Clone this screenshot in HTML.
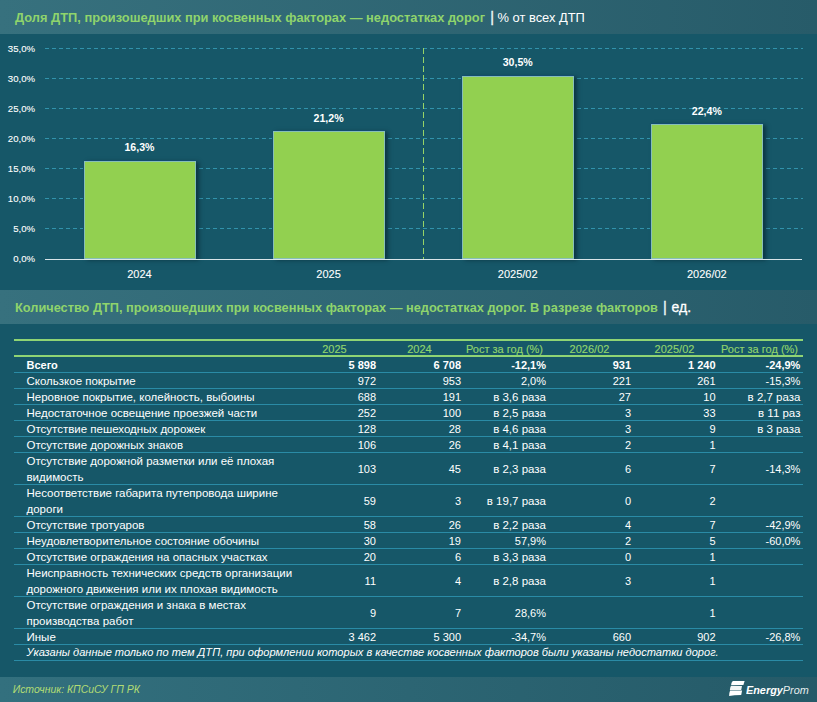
<!DOCTYPE html><html><head><meta charset="utf-8"><style>
*{margin:0;padding:0;box-sizing:border-box}
html,body{width:817px;height:702px;overflow:hidden;background:#165768;font-family:"Liberation Sans",sans-serif;color:#fff}
.a{position:absolute;white-space:pre}
.band{position:absolute;left:0;width:817px;height:34px;background:linear-gradient(90deg,#37717e 0%,#275b69 100%)}
.ttl{position:absolute;left:15px;font-size:12.85px;font-weight:bold;color:#8fd46c;line-height:16px}
.ttl .w{color:#fff;font-weight:normal;font-size:12.9px}
.ttl .p{color:#f0f8f8;font-weight:normal;font-size:14.5px;-webkit-text-stroke:0.35px #f0f8f8;margin-left:2px;position:relative;top:0px}
.yl{position:absolute;width:40px;left:-5px;text-align:right;font-size:9.6px;line-height:12px;-webkit-text-stroke:0.1px #fff}
.gl{position:absolute;left:45px;width:758px;height:1px;background:repeating-linear-gradient(90deg,#3192ab 0 4px,transparent 4px 7px)}
.bar{position:absolute;background:#92d050;border:1px solid #86bfb8;box-shadow:0 -1px 0 #124c70,-1px 0 0 #14506a,3px 1px 4px rgba(0,20,30,.5)}
.vl{position:absolute;width:140px;text-align:center;font-size:10.6px;font-weight:bold;line-height:12px}
.xl{position:absolute;width:140px;text-align:center;font-size:11px;line-height:12px;-webkit-text-stroke:0.1px #fff}
.row{position:absolute;left:14px;width:789px;border-bottom:1px solid #2a8ba6}
.c{position:absolute;top:0;text-align:right;font-size:11px;white-space:pre}
.lab{position:absolute;left:12.5px;top:0;font-size:11.5px;line-height:16px;white-space:pre}
.hd{position:absolute;text-align:center;font-size:11px;color:#90d46c;width:85px;line-height:14px;-webkit-text-stroke:0.15px #90d46c}
</style></head><body>
<div class="band" style="top:0"></div>
<div class="ttl" style="top:9px">Доля ДТП, произошедших при косвенных факторах — недостатках дорог <span class="p" style="top:0px;margin-left:1.6px">|</span><span class="w"> % от всех ДТП</span></div>
<div class="gl" style="top:48px"></div>
<div class="yl" style="top:43px">35,0%</div>
<div class="gl" style="top:78px"></div>
<div class="yl" style="top:73px">30,0%</div>
<div class="gl" style="top:108px"></div>
<div class="yl" style="top:103px">25,0%</div>
<div class="gl" style="top:138px"></div>
<div class="yl" style="top:133px">20,0%</div>
<div class="gl" style="top:168px"></div>
<div class="yl" style="top:163px">15,0%</div>
<div class="gl" style="top:198px"></div>
<div class="yl" style="top:193px">10,0%</div>
<div class="gl" style="top:228px"></div>
<div class="yl" style="top:223px">5,0%</div>
<div class="yl" style="top:253px">0,0%</div>
<div class="a" style="left:423px;top:48px;width:1px;height:211px;background:repeating-linear-gradient(180deg,#96d366 0 6px,transparent 6px 9.1px)"></div>
<div class="bar" style="left:84.0px;top:161.0px;width:112px;height:98.0px"></div>
<div class="vl" style="left:69.5px;top:141.2px">16,3%</div>
<div class="xl" style="left:69.5px;top:268px">2024</div>
<div class="bar" style="left:273.1px;top:131.0px;width:112px;height:128.0px"></div>
<div class="vl" style="left:258.6px;top:111.8px">21,2%</div>
<div class="xl" style="left:258.6px;top:268px">2025</div>
<div class="bar" style="left:462.2px;top:76.0px;width:112px;height:183.0px"></div>
<div class="vl" style="left:447.7px;top:56.0px">30,5%</div>
<div class="xl" style="left:447.7px;top:268px">2025/02</div>
<div class="bar" style="left:651.3px;top:124.0px;width:112px;height:135.0px"></div>
<div class="vl" style="left:636.8px;top:104.6px">22,4%</div>
<div class="xl" style="left:636.8px;top:268px">2026/02</div>
<div class="a" style="left:45px;top:258.5px;width:757px;height:1px;background:#d8e4e8"></div>
<div class="band" style="top:290px"></div>
<div class="ttl" style="top:299px;font-size:12.78px">Количество ДТП, произошедших при косвенных факторах — недостатках дорог. В разрезе факторов<span class="p" style="top:0px;margin-left:5px">|</span><span class="w" style="font-size:14px;margin-left:1px;-webkit-text-stroke:0.3px #fff"> ед.</span></div>
<div class="a" style="left:14px;top:339px;width:789px;height:2px;background:#8fd474"></div>
<div class="a" style="left:14px;top:354.5px;width:789px;height:2px;background:#8fd474"></div>
<div class="hd" style="left:292.0px;top:342px">2025</div>
<div class="hd" style="left:377.0px;top:342px">2024</div>
<div class="hd" style="left:462.0px;top:342px">Рост за год (%)</div>
<div class="hd" style="left:547.0px;top:342px">2026/02</div>
<div class="hd" style="left:632.0px;top:342px">2025/02</div>
<div class="hd" style="left:717.0px;top:342px">Рост за год (%)</div>
<div class="row" style="top:356.5px;height:16px">
<div class="lab" style="font-weight:bold;font-size:11px;top:0px">Всего</div>
<div class="c" style="font-weight:bold;right:427.0px;line-height:16px">5 898</div>
<div class="c" style="font-weight:bold;right:342.0px;line-height:16px">6 708</div>
<div class="c" style="font-weight:bold;right:257.0px;line-height:16px">-12,1%</div>
<div class="c" style="font-weight:bold;right:172.0px;line-height:16px">931</div>
<div class="c" style="font-weight:bold;right:87.4px;line-height:16px">1 240</div>
<div class="c" style="font-weight:bold;right:2.6px;line-height:16px">-24,9%</div>
</div>
<div class="row" style="top:372.5px;height:16px">
<div class="lab" style="top:0px">Скользкое покрытие</div>
<div class="c" style="right:427.0px;line-height:16px">972</div>
<div class="c" style="right:342.0px;line-height:16px">953</div>
<div class="c" style="right:257.0px;line-height:16px">2,0%</div>
<div class="c" style="right:172.0px;line-height:16px">221</div>
<div class="c" style="right:87.4px;line-height:16px">261</div>
<div class="c" style="right:2.6px;line-height:16px">-15,3%</div>
</div>
<div class="row" style="top:388.5px;height:16px">
<div class="lab" style="top:0px">Неровное покрытие, колейность, выбоины</div>
<div class="c" style="right:427.0px;line-height:16px">688</div>
<div class="c" style="right:342.0px;line-height:16px">191</div>
<div class="c" style="font-size:11.5px;right:257.0px;line-height:16px">в 3,6 раза</div>
<div class="c" style="right:172.0px;line-height:16px">27</div>
<div class="c" style="right:87.4px;line-height:16px">10</div>
<div class="c" style="font-size:11.5px;right:2.6px;line-height:16px">в 2,7 раза</div>
</div>
<div class="row" style="top:404.5px;height:16px">
<div class="lab" style="top:0px">Недостаточное освещение проезжей части</div>
<div class="c" style="right:427.0px;line-height:16px">252</div>
<div class="c" style="right:342.0px;line-height:16px">100</div>
<div class="c" style="font-size:11.5px;right:257.0px;line-height:16px">в 2,5 раза</div>
<div class="c" style="right:172.0px;line-height:16px">3</div>
<div class="c" style="right:87.4px;line-height:16px">33</div>
<div class="c" style="font-size:11.5px;right:2.6px;line-height:16px">в 11 раз</div>
</div>
<div class="row" style="top:420.5px;height:16px">
<div class="lab" style="top:0px">Отсутствие пешеходных дорожек</div>
<div class="c" style="right:427.0px;line-height:16px">128</div>
<div class="c" style="right:342.0px;line-height:16px">28</div>
<div class="c" style="font-size:11.5px;right:257.0px;line-height:16px">в 4,6 раза</div>
<div class="c" style="right:172.0px;line-height:16px">3</div>
<div class="c" style="right:87.4px;line-height:16px">9</div>
<div class="c" style="font-size:11.5px;right:2.6px;line-height:16px">в 3 раза</div>
</div>
<div class="row" style="top:436.5px;height:16px">
<div class="lab" style="top:0px">Отсутствие дорожных знаков</div>
<div class="c" style="right:427.0px;line-height:16px">106</div>
<div class="c" style="right:342.0px;line-height:16px">26</div>
<div class="c" style="font-size:11.5px;right:257.0px;line-height:16px">в 4,1 раза</div>
<div class="c" style="right:172.0px;line-height:16px">2</div>
<div class="c" style="right:87.4px;line-height:16px">1</div>
<div class="c" style="right:2.6px;line-height:16px"></div>
</div>
<div class="row" style="top:452.5px;height:32px">
<div class="lab" style="top:0px">Отсутствие дорожной разметки или её плохая<br>видимость</div>
<div class="c" style="right:427.0px;line-height:32px">103</div>
<div class="c" style="right:342.0px;line-height:32px">45</div>
<div class="c" style="font-size:11.5px;right:257.0px;line-height:32px">в 2,3 раза</div>
<div class="c" style="right:172.0px;line-height:32px">6</div>
<div class="c" style="right:87.4px;line-height:32px">7</div>
<div class="c" style="right:2.6px;line-height:32px">-14,3%</div>
</div>
<div class="row" style="top:484.5px;height:32px">
<div class="lab" style="top:0px">Несоответствие габарита путепровода ширине<br>дороги</div>
<div class="c" style="right:427.0px;line-height:32px">59</div>
<div class="c" style="right:342.0px;line-height:32px">3</div>
<div class="c" style="font-size:11.5px;right:257.0px;line-height:32px">в 19,7 раза</div>
<div class="c" style="right:172.0px;line-height:32px">0</div>
<div class="c" style="right:87.4px;line-height:32px">2</div>
<div class="c" style="right:2.6px;line-height:32px"></div>
</div>
<div class="row" style="top:516.5px;height:16px">
<div class="lab" style="top:0px">Отсутствие тротуаров</div>
<div class="c" style="right:427.0px;line-height:16px">58</div>
<div class="c" style="right:342.0px;line-height:16px">26</div>
<div class="c" style="font-size:11.5px;right:257.0px;line-height:16px">в 2,2 раза</div>
<div class="c" style="right:172.0px;line-height:16px">4</div>
<div class="c" style="right:87.4px;line-height:16px">7</div>
<div class="c" style="right:2.6px;line-height:16px">-42,9%</div>
</div>
<div class="row" style="top:532.5px;height:16px">
<div class="lab" style="top:0px">Неудовлетворительное состояние обочины</div>
<div class="c" style="right:427.0px;line-height:16px">30</div>
<div class="c" style="right:342.0px;line-height:16px">19</div>
<div class="c" style="right:257.0px;line-height:16px">57,9%</div>
<div class="c" style="right:172.0px;line-height:16px">2</div>
<div class="c" style="right:87.4px;line-height:16px">5</div>
<div class="c" style="right:2.6px;line-height:16px">-60,0%</div>
</div>
<div class="row" style="top:548.5px;height:16px">
<div class="lab" style="top:0px">Отсутствие ограждения на опасных участках</div>
<div class="c" style="right:427.0px;line-height:16px">20</div>
<div class="c" style="right:342.0px;line-height:16px">6</div>
<div class="c" style="font-size:11.5px;right:257.0px;line-height:16px">в 3,3 раза</div>
<div class="c" style="right:172.0px;line-height:16px">0</div>
<div class="c" style="right:87.4px;line-height:16px">1</div>
<div class="c" style="right:2.6px;line-height:16px"></div>
</div>
<div class="row" style="top:564.5px;height:32px">
<div class="lab" style="top:0px">Неисправность технических средств организации<br>дорожного движения или их плохая видимость</div>
<div class="c" style="right:427.0px;line-height:32px">11</div>
<div class="c" style="right:342.0px;line-height:32px">4</div>
<div class="c" style="font-size:11.5px;right:257.0px;line-height:32px">в 2,8 раза</div>
<div class="c" style="right:172.0px;line-height:32px">3</div>
<div class="c" style="right:87.4px;line-height:32px">1</div>
<div class="c" style="right:2.6px;line-height:32px"></div>
</div>
<div class="row" style="top:596.5px;height:32px">
<div class="lab" style="top:0px">Отсутствие ограждения и знака в местах<br>производства работ</div>
<div class="c" style="right:427.0px;line-height:32px">9</div>
<div class="c" style="right:342.0px;line-height:32px">7</div>
<div class="c" style="right:257.0px;line-height:32px">28,6%</div>
<div class="c" style="right:172.0px;line-height:32px"></div>
<div class="c" style="right:87.4px;line-height:32px">1</div>
<div class="c" style="right:2.6px;line-height:32px"></div>
</div>
<div class="row" style="top:628.5px;height:16px">
<div class="lab" style="top:0px">Иные</div>
<div class="c" style="right:427.0px;line-height:16px">3 462</div>
<div class="c" style="right:342.0px;line-height:16px">5 300</div>
<div class="c" style="right:257.0px;line-height:16px">-34,7%</div>
<div class="c" style="right:172.0px;line-height:16px">660</div>
<div class="c" style="right:87.4px;line-height:16px">902</div>
<div class="c" style="right:2.6px;line-height:16px">-26,8%</div>
</div>
<div class="row" style="top:644.5px;height:16px"><div class="lab" style="font-size:11.07px;font-style:italic;top:-1px">Указаны данные только по тем ДТП, при оформлении которых в качестве косвенных факторов были указаны недостатки дорог.</div></div>
<div class="a" style="left:0;top:676.5px;width:817px;height:26px;background:linear-gradient(90deg,#33707e,#255a68)"></div>
<div class="a" style="left:12.7px;top:682px;font-size:10.45px;font-style:italic;color:#b2dc74;line-height:16px">Источник: КПСиСУ ГП РК</div>
<svg class="a" style="left:724px;top:676px" width="24" height="22" viewBox="0 0 24 22">
<path d="M8.8 4.9 L20.6 5.0 L19.4 9.1 L7.1 9.3 Q7.2 6.3 8.8 4.9 Z" fill="#fff"/>
<path d="M6.9 9.9 L18.0 9.9 L17.2 14.0 L5.9 14.0 Q6.0 11.5 6.9 9.9 Z" fill="#f2f5f5"/>
<path d="M6.1 14.6 L18.1 14.6 L17.2 18.9 Q10 18.9 5.1 19.9 Q5.3 16.5 6.1 14.6 Z" fill="#fff"/>
</svg>
<div class="a" style="left:745.5px;top:683px;font-size:11.8px;font-style:italic;line-height:14px;transform:scaleX(0.92);transform-origin:0 0"><b>Energy</b><span style="color:#e6eeee">Prom</span></div>
</body></html>
